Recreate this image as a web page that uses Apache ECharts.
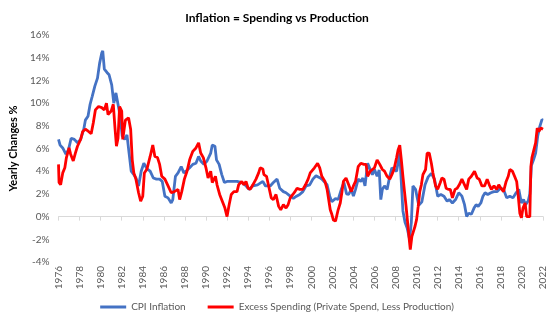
<!DOCTYPE html>
<html><head><meta charset="utf-8">
<script src="https://cdn.jsdelivr.net/npm/echarts@6/dist/echarts.min.js"></script>
<style>html,body{margin:0;padding:0;background:#fff}#c{width:554px;height:325px}</style>
</head><body><div id="c"></div>
<script>
const titleText = 'Inflation = Spending vs Production';
const yAxisTitle = 'Yearly Changes %';
const seriesNames = ['CPI Inflation', 'Excess Spending (Private Spend, Less Production)'];

const cpiYears = [1976.0,1976.15,1976.4,1976.7,1976.95,1977.2,1977.5,1977.8,1978.1,1978.4,1978.55,1978.8,1979.0,1979.2,1979.45,1979.7,1979.9,1980.1,1980.2,1980.35,1980.6,1980.8,1981.05,1981.25,1981.45,1981.6,1981.75,1981.9,1982.05,1982.3,1982.5,1982.7,1982.9,1983.15,1983.35,1983.6,1983.85,1984.1,1984.4,1984.7,1985.0,1985.3,1985.6,1985.85,1986.1,1986.4,1986.7,1986.85,1987.1,1987.35,1987.65,1987.9,1988.1,1988.45,1988.75,1989.05,1989.3,1989.5,1989.8,1990.1,1990.45,1990.6,1990.85,1991.0,1991.25,1991.5,1991.75,1992.0,1992.5,1992.95,1993.4,1993.7,1994.1,1994.45,1994.9,1995.4,1995.65,1996.1,1996.4,1996.75,1997.0,1997.35,1997.6,1998.0,1998.3,1998.6,1998.9,1999.2,1999.5,1999.85,2000.15,2000.45,2000.75,2001.0,2001.3,2001.5,2001.75,2001.95,2002.3,2002.55,2002.85,2003.1,2003.35,2003.55,2003.8,2004.0,2004.2,2004.45,2004.7,2004.9,2005.1,2005.35,2005.6,2005.8,2006.0,2006.25,2006.45,2006.6,2006.75,2006.95,2007.2,2007.45,2007.65,2007.85,2008.1,2008.4,2008.55,2008.7,2008.9,2009.1,2009.33,2009.5,2009.65,2009.9,2010.2,2010.5,2010.8,2011.1,2011.4,2011.7,2012.0,2012.3,2012.6,2012.9,2013.1,2013.4,2013.7,2014.0,2014.3,2014.55,2014.75,2014.95,2015.2,2015.45,2015.65,2015.85,2016.1,2016.3,2016.5,2016.75,2017.05,2017.35,2017.65,2017.95,2018.25,2018.55,2018.85,2019.15,2019.45,2019.7,2019.95,2020.15,2020.35,2020.6,2020.75,2020.9,2021.1,2021.3,2021.5,2021.7,2021.9,2022.0];
const cpiValues = [6.8,6.3,6.05,5.5,5.9,6.9,6.8,6.5,6.8,7.7,8.5,8.85,9.9,10.6,11.5,12.2,13.5,14.4,14.6,13.0,12.7,12.5,11.6,10.0,10.9,10.75,9.4,8.4,7.1,6.8,7.2,5.6,4.0,3.7,3.4,2.7,4.0,4.7,4.2,4.0,3.4,3.3,3.3,3.1,1.8,1.65,1.2,1.5,3.55,3.85,4.4,3.85,4.0,4.3,4.6,4.7,5.3,4.9,4.6,4.9,5.6,6.3,6.2,5.0,4.6,3.7,3.0,3.1,3.1,3.1,3.0,2.8,2.4,2.7,2.8,3.1,2.7,2.7,3.0,3.3,2.5,2.2,2.1,1.8,1.6,1.8,1.95,2.2,2.7,2.8,3.3,3.6,3.45,3.3,3.0,2.8,1.8,1.3,1.6,1.5,2.4,3.0,2.0,1.95,2.4,1.8,2.4,3.3,3.1,3.4,2.7,4.7,4.15,3.7,4.15,3.55,4.1,1.5,2.4,2.7,2.4,3.55,4.3,4.15,4.0,5.6,3.0,0.5,-0.5,-1.0,-2.0,-0.5,2.7,2.4,1.0,1.3,2.8,3.5,3.8,3.3,1.8,1.95,1.8,1.35,1.5,1.2,1.5,2.1,1.8,1.05,0.0,0.3,0.2,0.75,1.05,0.9,1.2,1.8,2.1,1.95,2.1,2.2,2.2,2.5,2.4,1.65,1.8,1.65,2.1,2.4,1.2,1.5,1.05,1.4,2.0,4.5,5.0,5.6,7.1,7.95,8.55,8.5];

const spendYears = [1976.0,1976.05,1976.2,1976.4,1976.6,1976.75,1977.0,1977.15,1977.4,1977.6,1977.8,1978.1,1978.3,1978.55,1978.85,1979.1,1979.3,1979.5,1979.8,1980.1,1980.35,1980.55,1980.7,1981.0,1981.2,1981.35,1981.5,1981.65,1981.8,1982.0,1982.1,1982.35,1982.65,1982.85,1983.0,1983.15,1983.35,1983.6,1983.8,1984.0,1984.15,1984.4,1984.7,1984.95,1985.15,1985.4,1985.6,1985.8,1986.1,1986.4,1986.7,1987.0,1987.35,1987.5,1987.7,1987.95,1988.2,1988.45,1988.75,1989.05,1989.3,1989.5,1989.75,1990.0,1990.2,1990.45,1990.6,1990.9,1991.05,1991.3,1991.55,1991.8,1992.0,1992.2,1992.4,1992.65,1992.95,1993.1,1993.4,1993.6,1993.8,1994.0,1994.2,1994.45,1994.75,1995.0,1995.15,1995.4,1995.5,1995.75,1995.95,1996.2,1996.4,1996.65,1996.9,1997.1,1997.35,1997.6,1997.8,1998.0,1998.25,1998.45,1998.65,1998.9,1999.2,1999.45,1999.7,1999.9,2000.05,2000.3,2000.45,2000.6,2000.8,2001.0,2001.3,2001.5,2001.65,2001.8,2001.95,2002.1,2002.3,2002.55,2002.75,2002.9,2003.05,2003.3,2003.55,2003.8,2004.0,2004.2,2004.45,2004.7,2005.0,2005.2,2005.35,2005.6,2005.8,2006.0,2006.25,2006.5,2006.75,2006.95,2007.2,2007.45,2007.65,2007.85,2008.1,2008.25,2008.4,2008.55,2008.7,2008.85,2009.0,2009.15,2009.3,2009.4,2009.55,2009.7,2009.85,2010.0,2010.15,2010.3,2010.45,2010.6,2010.85,2011.0,2011.2,2011.4,2011.55,2011.8,2012.0,2012.25,2012.4,2012.6,2012.8,2013.0,2013.2,2013.4,2013.65,2013.85,2014.05,2014.3,2014.55,2014.75,2014.95,2015.2,2015.5,2015.75,2015.95,2016.2,2016.45,2016.7,2016.9,2017.1,2017.35,2017.6,2017.8,2018.0,2018.25,2018.5,2018.7,2018.85,2019.1,2019.3,2019.5,2019.65,2019.8,2019.95,2020.1,2020.3,2020.45,2020.6,2020.75,2020.85,2020.95,2021.1,2021.3,2021.45,2021.6,2021.8,2022.0];
const spendValues = [4.6,3.0,2.8,3.85,4.3,5.2,6.05,5.5,4.9,5.6,6.2,6.8,7.5,7.7,7.5,7.3,8.25,9.4,9.7,9.6,9.4,10.0,9.0,9.3,9.9,7.95,6.2,6.9,9.7,9.3,6.8,8.5,8.7,7.7,5.0,3.85,3.3,2.1,1.35,1.8,3.85,4.2,5.3,6.3,5.3,5.2,4.6,3.55,3.3,2.7,2.1,2.2,2.4,1.5,2.2,3.3,4.0,5.0,5.75,6.05,6.5,5.6,5.2,4.3,3.4,4.0,3.0,3.55,2.8,1.95,1.35,0.75,0.0,1.05,1.95,2.2,2.2,2.8,3.1,2.8,3.1,2.5,2.4,2.8,3.3,3.85,4.3,4.2,3.7,3.55,2.7,1.65,1.5,1.95,0.9,0.6,1.05,0.75,1.05,1.65,1.95,2.2,2.5,2.4,2.4,2.8,3.3,3.85,4.0,4.3,4.4,4.7,4.3,3.55,3.1,2.4,1.5,0.6,0.2,-0.3,-0.4,0.6,1.2,2.1,3.1,3.4,2.8,2.2,2.7,3.1,4.4,4.7,4.6,4.6,3.55,4.0,4.15,4.3,5.0,4.6,4.15,4.0,3.55,3.3,3.7,4.15,5.2,5.9,6.3,5.0,3.55,2.2,0.9,-0.55,-2.0,-2.9,-1.75,-1.3,-0.85,-0.25,0.9,2.2,2.8,3.7,4.15,5.6,5.6,4.7,3.85,2.7,2.4,3.0,3.4,3.3,2.5,2.4,2.4,1.65,2.4,2.5,2.8,3.3,2.8,2.4,3.3,3.55,4.0,3.4,3.3,2.7,2.7,3.3,2.8,2.4,2.7,2.4,2.8,2.5,2.2,3.1,3.55,4.15,4.0,3.55,3.1,1.8,0.3,-0.1,0.75,1.2,0.0,0.0,0.0,4.4,5.2,5.3,6.5,7.8,7.5,7.8,7.7];

const xMin = 1976, xMax = 2022, xStep = 2;
const yMin = -4, yMax = 16, yStep = 2;

const toPairs = (xs, vs) => xs.map((x, i) => [x, vs[i]]);
const FONT = 'Lato';

const chart = echarts.init(document.getElementById('c'), null, {renderer: 'canvas'});
chart.setOption({
  animation: false,
  backgroundColor: '#ffffff',
  textStyle: {fontFamily: FONT},
  title: {
    text: titleText, left: 'center', top: 7,
    textStyle: {fontFamily: FONT, fontSize: 12, fontWeight: 'bold', color: '#000000'}
  },
  legend: {
    bottom: 8, left: 'center', itemWidth: 26, itemHeight: 3, itemGap: 22,
    icon: 'rect',
    textStyle: {fontFamily: FONT, fontSize: 10, color: '#595959'},
    data: seriesNames
  },
  grid: {left: 50, right: 11, top: 35, bottom: 63},
  xAxis: [
    {type: 'value', min: xMin, max: xMax, interval: xStep,
     axisLine: {onZero: true, lineStyle: {color: '#d9d9d9', width: 1}},
     axisTick: {show: true, length: 4, lineStyle: {color: '#d9d9d9'}},
     axisLabel: {show: false}, splitLine: {show: false}},
    {type: 'value', min: xMin, max: xMax, interval: xStep, position: 'bottom',
     axisLine: {show: false, onZero: false}, axisTick: {show: false}, splitLine: {show: false},
     axisLabel: {rotate: 90, margin: 4, fontFamily: FONT, fontSize: 10, color: '#595959',
                 formatter: v => String(Math.round(v))}}
  ],
  yAxis: {
    type: 'value', min: yMin, max: yMax, interval: yStep,
    name: yAxisTitle, nameLocation: 'middle', nameRotate: 90, nameGap: 35,
    nameTextStyle: {fontFamily: FONT, fontSize: 11, fontWeight: 'bold', color: '#000000'},
    axisLine: {show: false}, axisTick: {show: false}, splitLine: {show: false},
    axisLabel: {formatter: '{value}%', fontFamily: FONT, fontSize: 10, color: '#595959', margin: 9}
  },
  series: [
    {name: seriesNames[0], type: 'line', xAxisIndex: 0, data: toPairs(cpiYears, cpiValues),
     showSymbol: false, symbol: 'none', lineStyle: {color: '#4472C4', width: 2.8}, itemStyle: {color: '#4472C4'}},
    {name: seriesNames[1], type: 'line', xAxisIndex: 0, data: toPairs(spendYears, spendValues),
     showSymbol: false, symbol: 'none', lineStyle: {color: '#FF0000', width: 2.8}, itemStyle: {color: '#FF0000'}}
  ]
});
</script></body></html>
